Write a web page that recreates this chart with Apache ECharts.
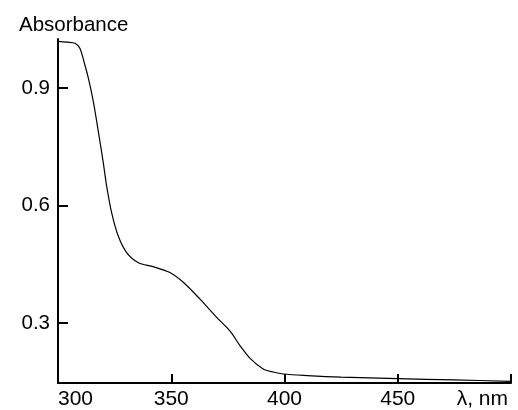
<!DOCTYPE html>
<html>
<head>
<meta charset="utf-8">
<script src="https://cdn.jsdelivr.net/npm/echarts@6/dist/echarts.min.js"></script>
<style>
html, body { margin: 0; padding: 0; background: #fff; }
#spectrum { width: 518px; height: 410px; }
</style>
</head>
<body>
<div id="spectrum"></div>
<script>
// absorption spectrum
var wavelength = [300, 304, 307.5, 309.7, 311.9, 313.4, 315.6, 317.8, 320, 321.5, 323.7, 326.6, 330.3, 335.5, 342,
    349.4, 355.3, 362.7, 370.8, 375.9, 380.4, 384.8, 390.6, 395, 399.5, 410, 425, 450, 475, 500];
var absorbance = [1.019, 1.017, 1.014, 1.001, 0.958, 0.925, 0.865, 0.789, 0.709, 0.649, 0.581, 0.522, 0.48, 0.454, 0.444,
    0.429, 0.404, 0.361, 0.31, 0.28, 0.242, 0.21, 0.183, 0.175, 0.17, 0.166, 0.162, 0.158, 0.155, 0.151];
var yTicks = [0.3, 0.6, 0.9];

var points = wavelength.map(function (w, i) { return [w, absorbance[i]]; });
var font = '"Liberation Sans", Arial, sans-serif';

var chart = echarts.init(document.getElementById('spectrum'));
var option = {
    animation: false,
    title: {
        text: 'Absorbance',
        left: 14,
        top: 10,
        textStyle: { fontFamily: font, fontSize: 20.5, fontWeight: 'normal', color: '#000' }
    },
    grid: {
        left: 58,
        right: 7,
        top: 39,
        bottom: 26
    },
    xAxis: {
        type: 'value',
        min: 300,
        max: 500,
        interval: 50,
        name: 'λ, nm',
        nameLocation: 'end',
        nameGap: -3,
        nameTextStyle: {
            fontFamily: font, fontSize: 21, color: '#000',
            align: 'right', verticalAlign: 'top', padding: [6, 0, 0, 0]
        },
        axisLine: { lineStyle: { color: '#000', width: 2 } },
        axisTick: { inside: true, length: 9, lineStyle: { color: '#000', width: 2 } },
        axisLabel: {
            fontFamily: font, fontSize: 21, color: '#000', margin: 6,
            alignMinLabel: 'left',
            formatter: function (v) { return v === 500 ? '' : v; }
        },
        splitLine: { show: false }
    },
    yAxis: {
        type: 'value',
        min: 0.147,
        max: 1.025,
        axisLine: { show: true, lineStyle: { color: '#000', width: 2 } },
        axisTick: { show: true, inside: true, length: 10, customValues: yTicks, lineStyle: { color: '#000', width: 2 } },
        axisLabel: {
            fontFamily: font, fontSize: 20.5, color: '#000', margin: 8,
            customValues: yTicks,
            formatter: function (v) { return v.toFixed(1); }
        },
        splitLine: { show: false }
    },
    series: [
        {
            type: 'line',
            data: points,
            smooth: 0.3,
            showSymbol: false,
            lineStyle: { color: '#000', width: 1.2 }
        }
    ]
};
chart.setOption(option);
</script>
</body>
</html>
